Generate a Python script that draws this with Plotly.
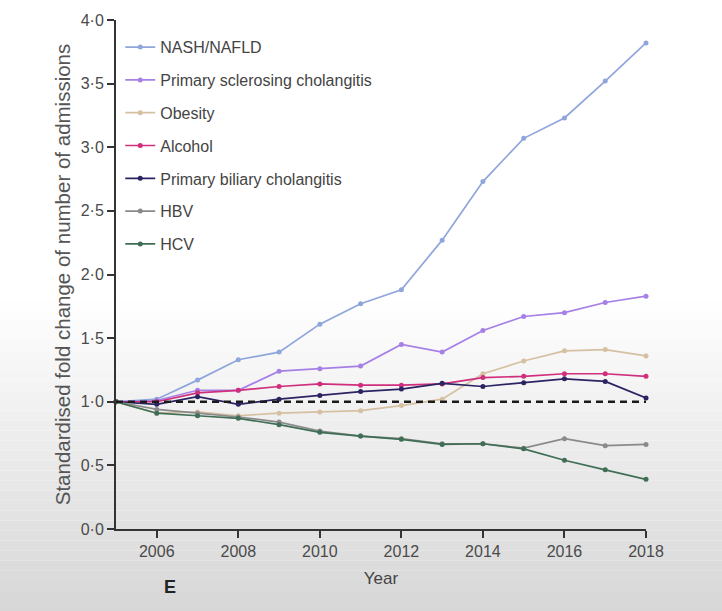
import plotly.graph_objects as go

years = list(range(2005, 2019))

nash = [1.00, 1.02, 1.17, 1.33, 1.39, 1.61, 1.77, 1.88, 2.27, 2.73, 3.07, 3.23, 3.52, 3.82]
psc = [1.00, 1.01, 1.09, 1.09, 1.24, 1.26, 1.28, 1.45, 1.39, 1.56, 1.67, 1.70, 1.78, 1.83]
obesity = [1.00, 0.91, 0.92, 0.89, 0.91, 0.92, 0.93, 0.97, 1.02, 1.22, 1.32, 1.40, 1.41, 1.36]
alcohol = [1.00, 1.00, 1.07, 1.09, 1.12, 1.14, 1.13, 1.13, 1.14, 1.19, 1.20, 1.22, 1.22, 1.20]
pbc = [1.00, 0.98, 1.04, 0.98, 1.02, 1.05, 1.08, 1.10, 1.145, 1.12, 1.15, 1.18, 1.16, 1.03]
hbv = [1.00, 0.94, 0.91, 0.88, 0.84, 0.77, 0.73, 0.71, 0.67, 0.67, 0.635, 0.71, 0.655, 0.665]
hcv = [1.00, 0.91, 0.89, 0.87, 0.82, 0.76, 0.73, 0.705, 0.665, 0.67, 0.63, 0.54, 0.465, 0.39]
baseline = [1.0] * len(years)

names = ["NASH/NAFLD", "Primary sclerosing cholangitis", "Obesity", "Alcohol",
         "Primary biliary cholangitis", "HBV", "HCV"]
series = [nash, psc, obesity, alcohol, pbc, hbv, hcv]
colors = ["#8fa6dc", "#a680e6", "#d6c0a2", "#cf2f7c", "#2b2463", "#8a8a8a", "#3f6e55"]

y_ticks = [0, 0.5, 1.0, 1.5, 2.0, 2.5, 3.0, 3.5, 4.0]
y_ticktext = ["0·0", "0·5", "1·0", "1·5", "2·0", "2·5", "3·0", "3·5", "4·0"]
x_ticks = [2006, 2008, 2010, 2012, 2014, 2016, 2018]

fig = go.Figure()

for name, vals, col in zip(names, series, colors):
    fig.add_trace(go.Scatter(
        x=years, y=vals, name=name, mode="lines+markers",
        line=dict(color=col, width=1.7),
        marker=dict(color=col, size=5),
        legendgroup=name, cliponaxis=False,
    ))

fig.add_trace(go.Scatter(
    x=years, y=baseline, mode="lines", showlegend=False,
    line=dict(color="#1a1a1a", width=2.5, dash="7px,5px"), hoverinfo="skip",
))

# background: photographed screen fading to grey at the bottom
shapes = []
W_top, W_bot = 300, 611
n = 31
for i in range(n):
    p0 = W_top + (W_bot - W_top) * i / n
    p1 = W_top + (W_bot - W_top) * (i + 1) / n
    t = (i + 0.5) / n
    g = int(255 - 40 * t)
    y0 = (529 - p1) / 509
    y1 = (529 - p0) / 509
    shapes.append(dict(type="rect", xref="paper", yref="paper",
                       x0=-0.25, x1=1.2, y0=y0, y1=y1,
                       fillcolor=f"rgb({g},{g},{g})", line=dict(width=0), layer="below"))

fig.update_layout(
    width=722, height=611,
    margin=dict(l=116, r=76, t=20, b=82),
    paper_bgcolor="white", plot_bgcolor="rgba(0,0,0,0)",
    shapes=shapes,
    font=dict(family="Liberation Sans, Arial, sans-serif", color="#4a4a4a", size=16),
    showlegend=True,
    legend=dict(x=0.008, y=0.98, xanchor="left", yanchor="top",
                bgcolor="rgba(0,0,0,0)", font=dict(size=16, color="#444"),
                tracegroupgap=9, itemwidth=30),
    xaxis=dict(range=[2005, 2018], tickvals=x_ticks, ticks="outside", ticklen=7,
               tickwidth=2, tickcolor="#333", showline=True, linecolor="#333",
               linewidth=2, showgrid=False, zeroline=False,
               title=dict(text="Year", font=dict(size=17, color="#444"), standoff=13),
               tickfont=dict(size=16, color="#4a4a4a")),
    yaxis=dict(range=[0, 4], tickvals=y_ticks, ticktext=y_ticktext, ticks="outside",
               ticklen=7, tickwidth=2, tickcolor="#333", showline=True,
               linecolor="#333", linewidth=2, showgrid=False, zeroline=False,
               title=dict(text="Standardised fold change of number of admissions",
                          font=dict(size=20.5, color="#555"), standoff=4),
               tickfont=dict(size=16, color="#4a4a4a")),
)

fig.add_annotation(text="<b>E</b>", xref="paper", yref="paper",
                   x=(170 - 116) / 530, y=(529 - 587) / 509,
                   xanchor="center", yanchor="middle",
                   showarrow=False, font=dict(size=18, color="#222"))

fig.write_html("out.html")
